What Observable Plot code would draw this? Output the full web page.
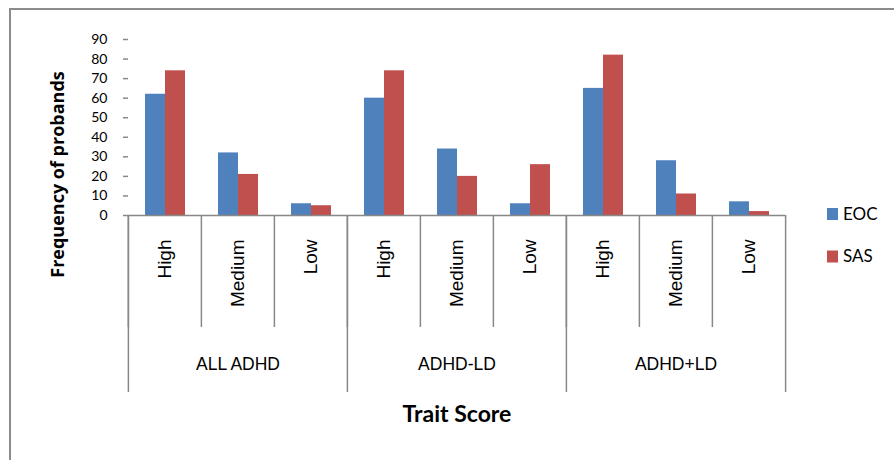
<!DOCTYPE html>
<html>
<head>
<meta charset="utf-8">
<script src="https://cdn.jsdelivr.net/npm/d3@7"></script>
<script src="https://cdn.jsdelivr.net/npm/@observablehq/plot@0.6"></script>
<style>
  html, body { margin: 0; padding: 0; background: #fff; }
  #chart { position: relative; width: 894px; height: 460px; overflow: hidden; }
  #chart .border {
    position: absolute; left: 9px; top: 8px; width: 900px; height: 470px;
    border: 2px solid #8c8c8c; box-sizing: border-box;
  }
  #chart svg { position: absolute; left: 0; top: 0; }
</style>
</head>
<body>
<div id="chart"><div class="border"></div></div>
<script>
// Probands per trait-score level, by diagnostic group and rater
const groups = ["ALL ADHD", "ADHD-LD", "ADHD+LD"];
const levels = ["High", "Medium", "Low"];
const series = ["EOC", "SAS"];
const colors = ["#4f81bd", "#c0504d"];
const eocValues = [62, 32, 6, 60, 34, 6, 65, 28, 7];
const sasValues = [74, 21, 5, 74, 20, 26, 82, 11, 2];
const yTicks = [0, 10, 20, 30, 40, 50, 60, 70, 80, 90];
const xTitle = "Trait Score";
const yTitle = "Frequency of probands";

// one category per group × level
const categories = groups.flatMap(g => levels.map(l => ({key: `${g}|${l}`, group: g, level: l})));
const keys = categories.map(d => d.key);
const bars = categories.flatMap((c, i) => [
  {key: c.key, series: series[0], value: eocValues[i]},
  {key: c.key, series: series[1], value: sasValues[i]}
]);
const groupStarts = categories.filter(d => d.level === levels[0]);
const groupMiddles = categories.filter(d => d.level === levels[1]);

const width = 894, height = 460;
const marginLeft = 127, marginRight = 108, marginTop = 39, marginBottom = 245;
const step = (width - marginLeft - marginRight) / keys.length;
const gray = "#888888";
const labelFont = "'Liberation Sans', Arial, sans-serif";

const chart = Plot.plot({
  width, height, marginLeft, marginRight, marginTop, marginBottom,
  style: {background: "transparent", overflow: "visible", color: "#000"},
  fx: {domain: keys, padding: 0, axis: null},
  x: {domain: series, paddingInner: 0, paddingOuter: 0.745, axis: null},
  y: {domain: [0, 90]},
  color: {domain: series, range: colors},
  marks: [
    Plot.barY(bars, {fx: "key", x: "series", y: "value", fill: "series"}),
    Plot.ruleY([0], {stroke: gray, strokeWidth: 1.5}),
    Plot.axisY(yTicks, {
      tickSize: 5, tickPadding: 16, line: true, stroke: gray, strokeWidth: 1.5,
      fill: "#000", fontSize: 14, fontFamily: "Lato, sans-serif", label: null
    }),
    // category separators below the axis
    Plot.ruleX(categories, {fx: "key", x: null, dx: -step / 2, insetTop: 176, insetBottom: -112, stroke: gray, strokeWidth: 1.5}),
    Plot.ruleX(groupStarts, {fx: "key", x: null, dx: -step / 2, insetTop: 176, insetBottom: -177, stroke: gray, strokeWidth: 1.5}),
    Plot.ruleX([keys[keys.length - 1]], {fx: d => d, x: null, dx: step / 2, insetTop: 176, insetBottom: -177, stroke: gray, strokeWidth: 1.5}),
    // level labels
    Plot.text(categories, {
      fx: "key", text: "level", frameAnchor: "bottom", rotate: -90,
      textAnchor: "end", lineAnchor: "middle",
      dy: 24, fontSize: 19, fontFamily: labelFont, fill: "#000"
    }),
    // group labels
    Plot.text(groupMiddles, {
      fx: "key", text: "group", frameAnchor: "bottom", lineAnchor: "middle", dy: 149,
      fontSize: 17.5, fontFamily: labelFont, fill: "#000"
    }),
    // axis titles
    Plot.text([xTitle], {
      fx: () => keys[4], text: d => d, frameAnchor: "bottom", lineAnchor: "middle", dy: 199,
      fontSize: 23, fontWeight: "bold", fontFamily: "Lato, sans-serif", fill: "#000"
    }),
    Plot.text([yTitle], {
      fx: () => keys[0], text: d => d, frameAnchor: "left", rotate: -90,
      textAnchor: "middle", lineAnchor: "middle", dx: -70, dy: 47,
      fontSize: 18, fontWeight: "bold", fontFamily: "'Open Sans', sans-serif", fill: "#000"
    })
  ]
});

// legend on the right
const color = chart.scale("color");
const legend = d3.select(chart).append("g")
  .attr("transform", "translate(827, 208)")
  .attr("font-family", "Lato, sans-serif")
  .attr("font-size", 17)
  .attr("text-anchor", "start");
series.forEach((s, i) => {
  const item = legend.append("g").attr("transform", `translate(0, ${i * 42.5})`);
  item.append("rect").attr("width", 11).attr("height", 12).attr("fill", color.apply(s));
  item.append("text").attr("x", 16).attr("y", 6).attr("dy", "0.35em").attr("fill", "#000").text(s);
});

document.getElementById("chart").appendChild(chart);
</script>
</body>
</html>
